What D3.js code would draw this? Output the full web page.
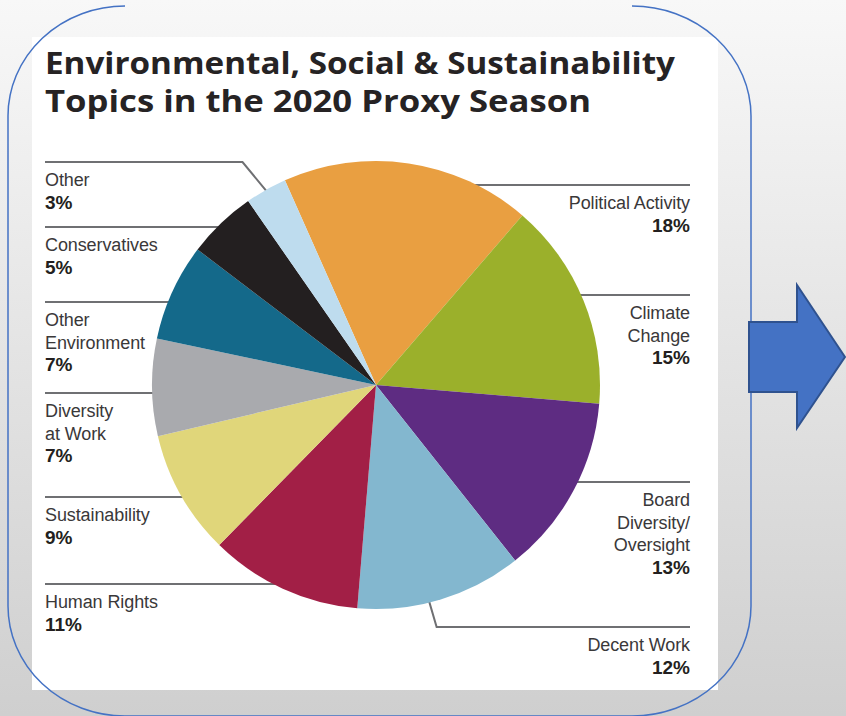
<!DOCTYPE html>
<html>
<head>
<meta charset="utf-8">
<script src="https://cdn.jsdelivr.net/npm/d3@7"></script>
<style>
  html, body { margin: 0; padding: 0; overflow: hidden; }
  svg { display: block; }
</style>
</head>
<body>
<script>
// ESG proposal topics, clockwise from the top of the pie
const topics = ["Political Activity", "Climate Change", "Board Diversity/Oversight", "Decent Work",
  "Human Rights", "Sustainability", "Diversity at Work", "Other Environment", "Conservatives", "Other"];
const shares = [18, 15, 13, 12, 11, 9, 7, 7, 5, 3];
const sliceColors = ["#e99f41", "#9bb02b", "#5e2c82", "#83b7cf", "#a21f46",
  "#e0d67a", "#a9aaae", "#14698a", "#231f20", "#bedcee"];
// Wrapped label text for each topic
const labelText = [["Political Activity"], ["Climate", "Change"], ["Board", "Diversity/", "Oversight"],
  ["Decent Work"], ["Human Rights"], ["Sustainability"], ["Diversity", "at Work"],
  ["Other", "Environment"], ["Conservatives"], ["Other"]];
const titleLines = ["Environmental, Social & Sustainability", "Topics in the 2020 Proxy Season"];

const W = 846, H = 716;
const svg = d3.select("body").append("svg").attr("width", W).attr("height", H);

const defs = svg.append("defs");
const bg = defs.append("linearGradient").attr("id", "bg").attr("x1", 0).attr("y1", 0).attr("x2", 0).attr("y2", 1);
bg.append("stop").attr("offset", "0%").attr("stop-color", "#f8f8f8");
bg.append("stop").attr("offset", "100%").attr("stop-color", "#cfcfcf");
svg.append("rect").attr("width", W).attr("height", H).attr("fill", "url(#bg)");

// white card holding the chart
svg.append("rect").attr("x", 32).attr("y", 37).attr("width", 686).attr("height", 653).attr("fill", "#ffffff");

// title
const title = svg.append("g").attr("fill", "#262324")
  .style("font-family", "'Open Sans', sans-serif").style("font-weight", 700).style("font-size", "31px");
title.append("text").attr("x", 45).attr("y", 74).attr("textLength", 630).attr("lengthAdjust", "spacingAndGlyphs").text(titleLines[0]);
title.append("text").attr("x", 45).attr("y", 112).attr("textLength", 546).attr("lengthAdjust", "spacingAndGlyphs").text(titleLines[1]);

// pie geometry
const cx = 376, cy = 385, R = 224;
const startA = -24 * Math.PI / 180;
const pie = d3.pie().sort(null).startAngle(startA).endAngle(startA + 2 * Math.PI);
const arcs = pie(shares);
const arcGen = d3.arc().innerRadius(0).outerRadius(R);

// label placement: side and y of the rule above each label
const layout = [
  { side: "R", y: 185 }, { side: "R", y: 295 }, { side: "R", y: 482 }, { side: "R", y: 627, elbow: true },
  { side: "L", y: 584 }, { side: "L", y: 497 }, { side: "L", y: 393 }, { side: "L", y: 302 },
  { side: "L", y: 227 }, { side: "L", y: 162, elbow: true }
];
const leftX = 45, rightX = 690;
const pt = (a, r) => [cx + r * Math.sin(a), cy - r * Math.cos(a)];

const leaders = svg.append("g").attr("fill", "none").attr("stroke", "#6f7073").attr("stroke-width", 2);
arcs.forEach((d, i) => {
  const L = layout[i];
  let pts;
  if (L.elbow && L.side === "L") {
    const m = pt((d.startAngle + d.endAngle) / 2, R - 3);
    pts = [[leftX, L.y], [m[0] - 25, L.y], m];
  } else if (L.elbow && L.side === "R") {
    const s = pt(d.startAngle + 0.57 * (d.endAngle - d.startAngle), R - 3);
    pts = [s, [s[0] + 8, L.y], [rightX, L.y]];
  } else {
    const dx = Math.sqrt(R * R - (L.y - cy) * (L.y - cy));
    const edge = L.side === "L" ? cx - dx + 4 : cx + dx - 4;
    pts = L.side === "L" ? [[leftX, L.y], [edge, L.y]] : [[edge, L.y], [rightX, L.y]];
  }
  leaders.append("path").attr("d", d3.line()(pts));
});

// slices
svg.append("g").attr("transform", `translate(${cx},${cy})`)
  .selectAll("path").data(arcs).join("path")
  .attr("d", arcGen).attr("fill", (d, i) => sliceColors[i]);

// labels
const labels = svg.append("g").style("font-family", "'Liberation Sans', Arial, sans-serif").style("font-size", "18px");
arcs.forEach((d, i) => {
  const L = layout[i];
  const x = L.side === "L" ? leftX : rightX;
  const anchor = L.side === "L" ? "start" : "end";
  const lines = labelText[i];
  lines.forEach((t, k) => {
    labels.append("text").attr("x", x).attr("y", L.y + 24 + k * 22.5).attr("text-anchor", anchor)
      .attr("fill", "#3a3839").style("letter-spacing", "-0.1px").text(t);
  });
  labels.append("text").attr("x", x).attr("y", L.y + 24 + lines.length * 22.5).attr("text-anchor", anchor)
    .attr("fill", "#231f20").style("font-weight", "bold").style("font-size", "19px").text(shares[i] + "%");
});

// rounded outline framing the card
const frame = "M125,6 A117,110 0 0 0 8,116 L8,606 A117,110 0 0 0 125,716 L632,716 A119,110 0 0 0 751,606 L751,116 A119,110 0 0 0 632,6";
svg.append("path").attr("d", frame).attr("fill", "none").attr("stroke", "#4472c4").attr("stroke-width", 1.5);

// block arrow on the right
svg.append("path").attr("d", "M749,322 L797,322 L797,285 L845,357 L797,428 L797,392 L749,392 Z")
  .attr("fill", "#4472c4").attr("stroke", "#2f528f").attr("stroke-width", 2);
</script>
</body>
</html>
